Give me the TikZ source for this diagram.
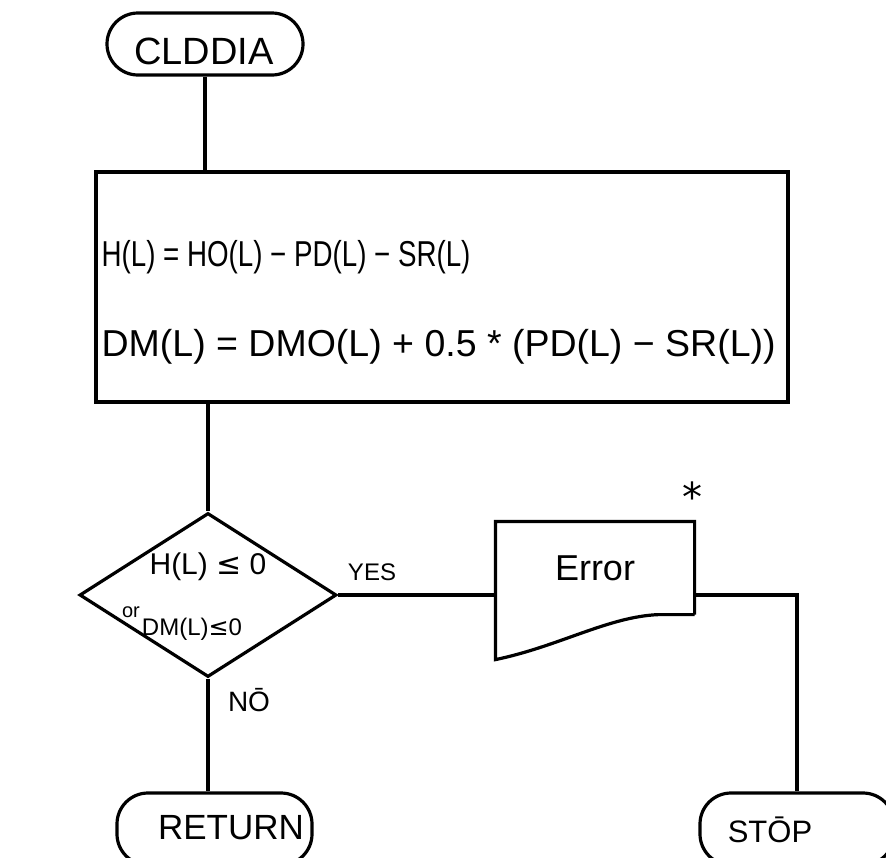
\documentclass[tikz,border=0pt]{standalone}
\usepackage{fontspec}
\setmainfont{Liberation Sans}
\newfontfamily\symfont{DejaVu Sans}
\usetikzlibrary{shapes.geometric,calc}
\newcommand{\fsz}[1]{\fontsize{#1}{#1}\selectfont}
\begin{document}
\begin{tikzpicture}[x=1pt,y=-1pt,line width=3.2pt,
  term/.style={draw,rectangle,rounded corners=31pt,inner sep=0pt},
  proc/.style={draw,rectangle,inner sep=0pt},
  dec/.style={draw,diamond,inner sep=0pt},
  txt/.style={inner sep=0pt,anchor=center},
  conn/.style={line width=3.2pt}]
\useasboundingbox (0,0) rectangle (886,857);
\clip (0,0) rectangle (886,857);
\fill[white] (0,0) rectangle (886,857);

% start terminal
\node[term,minimum width=196pt,minimum height=62pt] (start) at (205,44) {};
\node[txt,font=\fsz{38}] (starttxt) at (204,51) {CLDDIA};

% process box
\node[proc,minimum width=692pt,minimum height=230pt] (box) at (442,287) {};
\node[inner sep=0pt,anchor=west,font=\fsz{36}] (eq1) at (100,257)
  {\scalebox{0.77}[1]{H(L) = HO(L) − PD(L) − SR(L)}};
\node[inner sep=0pt,anchor=west,font=\fsz{37.5}] (eq2) at (100,347)
  {DM(L) = DMO(L) + 0.5 * (PD(L) − SR(L))};

% decision
\node[dec,minimum width=257pt,minimum height=164pt] (dec) at (208,595) {};
\node[txt,font=\fsz{30}] (d1) at (208,567) {H(L) {\symfont ≤} 0};
\node[txt,font=\fsz{20}] (dor) at (131,612) {or};
\node[txt,font=\fsz{24}] (d2) at (192,629) {DM(L){\symfont ≤}0};

% error document
\node[inner sep=0pt,minimum width=196pt,minimum height=90pt,font=\fsz{36}] (err) at (595,568) {Error};
\draw (err.south east) -- (err.north east) -- (err.north west)
  -- ($(err.south west)+(0,45)$)
  .. controls ($(err.south west)+(63,32)$) and ($(err.south west)+(113,2)$)
  .. ($(err.south west)+(163,0)$) -- (err.south east);
\node[txt,font=\symfont\fsz{40}] (ast) at (692,497) {*};

% terminals at the bottom
\node[term,minimum width=195pt,minimum height=72pt] (ret) at (214.5,829) {};
\node[txt,font=\fsz{35}] (rettxt) at (231,828) {RETURN};
\node[term,minimum width=194pt,minimum height=72pt] (stop) at (797,829) {};
\node[txt,font=\fsz{31}] (stoptxt) at (770,830) {STŌP};

% connectors
\draw[conn] (start.south) -- (start.south |- box.north);
\draw[conn] (box.south -| dec.north) -- (dec.north);
\draw[conn] (dec.east) -- (dec.east -| err.west);
\draw[conn] (dec.east -| err.east) -| (stop.north);
\draw[conn] (dec.south) -- (dec.south |- ret.north);

% connector labels
\node[txt,font=\fsz{24}] (yes) at (372,572) {YES};
\node[txt,font=\fsz{28}] (no) at (249,700) {NŌ};
\end{tikzpicture}
\end{document}
